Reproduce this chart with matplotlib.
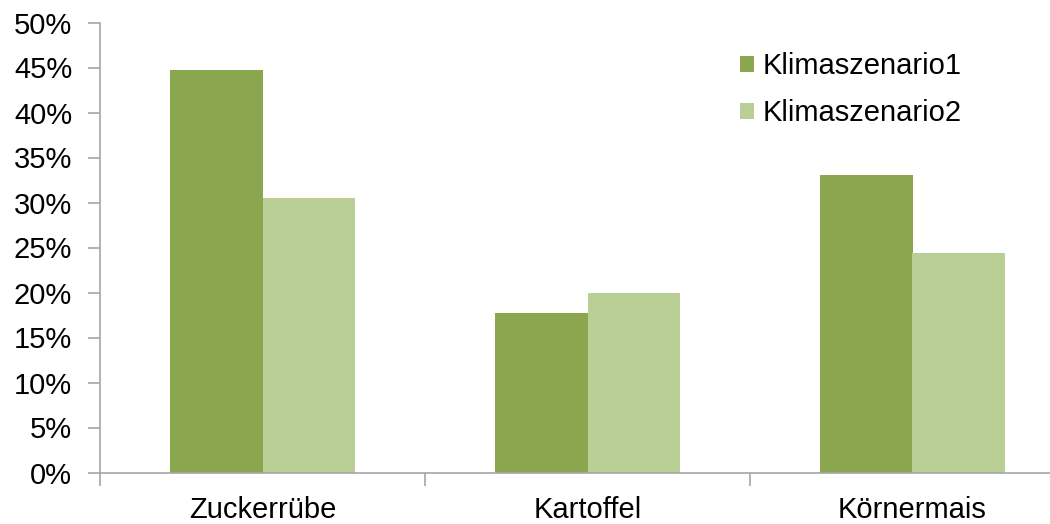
import numpy as np
import matplotlib.pyplot as plt
from matplotlib.ticker import PercentFormatter

categories = ['Zuckerrübe', 'Kartoffel', 'Körnermais']
szenario1 = [44.7, 17.7, 33.1]
szenario2 = [30.5, 19.9, 24.4]
yticks = np.arange(0, 51, 5)

plt.rcParams['font.family'] = ['Liberation Sans', 'DejaVu Sans']

fig = plt.figure(figsize=(10.5, 5.24), dpi=100)
ax = fig.add_axes([100 / 1050, 51.5 / 524, 975 / 1050, 450 / 524])

x = np.arange(len(categories))
w = 0.286
ax.bar(x - w / 2, szenario1, w, color='#8AA64F', label='Klimaszenario1')
ax.bar(x + w / 2, szenario2, w, color='#BACF96', label='Klimaszenario2')

ax.set_xlim(-0.5, len(categories) - 0.5)
ax.set_ylim(0, 50)
ax.set_yticks(yticks)
ax.yaxis.set_major_formatter(PercentFormatter(decimals=0))
ax.set_xticks(x)
ax.set_xticklabels(categories)
ax.set_xticks(np.arange(-0.5, len(categories)), minor=True)

for s in ['top', 'right']:
    ax.spines[s].set_visible(False)
for s in ['left', 'bottom']:
    ax.spines[s].set_color('#A6A6A6')
    ax.spines[s].set_linewidth(1.2)

ax.tick_params(axis='y', labelsize=21, length=9, width=1.2, color='#A6A6A6', pad=11)
ax.tick_params(axis='x', which='major', labelsize=21, length=0, pad=17)
ax.tick_params(axis='x', which='minor', length=9, width=1.2, color='#A6A6A6')

ax.legend(loc='upper left', bbox_to_anchor=(0.629, 0.992), frameon=False,
          fontsize=21, handlelength=0.5, handleheight=0.5, handletextpad=0.3,
          labelspacing=0.65)

fig.savefig('out.png', dpi=100)
